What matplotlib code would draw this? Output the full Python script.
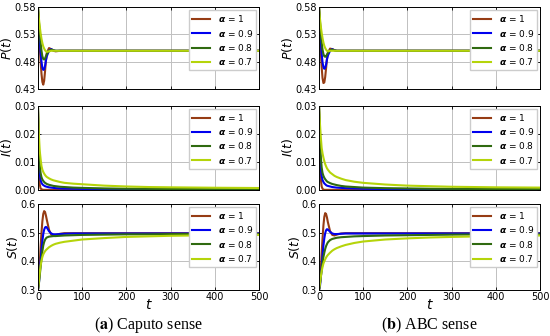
import matplotlib
matplotlib.use("Agg")
import matplotlib.pyplot as plt

# time grid shared by all the curves
t = [0, 2, 4, 6, 8, 10, 12, 14, 16, 18, 20, 25, 30, 35, 40, 50, 60, 80, 100, 150, 200, 250, 300, 400, 500]

alphas = ["1", "0.9", "0.8", "0.7"]
farben = ["#963c14", "#0000ee", "#2f6a10", "#b5d40a"]

# --- Caputo ---
P_caputo = [
    [0.58, 0.545, 0.51, 0.48, 0.458, 0.443, 0.438, 0.445, 0.462, 0.482, 0.496, 0.505, 0.503, 0.500, 0.499, 0.500, 0.500, 0.500, 0.500, 0.500, 0.500, 0.500, 0.500, 0.500, 0.500],
    [0.58, 0.55, 0.52, 0.497, 0.480, 0.469, 0.465, 0.466, 0.472, 0.482, 0.490, 0.500, 0.503, 0.501, 0.500, 0.500, 0.500, 0.500, 0.500, 0.500, 0.500, 0.500, 0.500, 0.500, 0.500],
    [0.58, 0.555, 0.535, 0.515, 0.500, 0.490, 0.485, 0.484, 0.486, 0.490, 0.494, 0.500, 0.502, 0.501, 0.500, 0.500, 0.500, 0.500, 0.500, 0.500, 0.500, 0.500, 0.500, 0.500, 0.500],
    [0.58, 0.56, 0.545, 0.532, 0.522, 0.514, 0.508, 0.504, 0.501, 0.499, 0.498, 0.499, 0.500, 0.500, 0.500, 0.500, 0.500, 0.500, 0.500, 0.500, 0.500, 0.500, 0.500, 0.500, 0.500],
]
I_caputo = [
    [0.03, 0.008, 0.002, 0.0005, 0.0002, 0.0001, 0, 0, 0, 0, 0, 0, 0, 0, 0, 0, 0, 0, 0, 0, 0, 0, 0, 0, 0],
    [0.03, 0.012, 0.006, 0.0035, 0.0025, 0.002, 0.0017, 0.0015, 0.0013, 0.0012, 0.0011, 0.0009, 0.0008, 0.0007, 0.0006, 0.0005, 0.00045, 0.0004, 0.00035, 0.0003, 0.00025, 0.0002, 0.0002, 0.00015, 0.00012],
    [0.03, 0.016, 0.009, 0.006, 0.0045, 0.0037, 0.0032, 0.0028, 0.0025, 0.0023, 0.0021, 0.0018, 0.0016, 0.0014, 0.0013, 0.0011, 0.001, 0.0008, 0.0007, 0.0005, 0.0004, 0.00035, 0.0003, 0.00025, 0.0002],
    [0.03, 0.02, 0.014, 0.011, 0.0085, 0.0072, 0.0064, 0.0058, 0.0053, 0.0049, 0.0046, 0.0041, 0.0037, 0.0034, 0.0032, 0.0028, 0.0025, 0.0022, 0.002, 0.0015, 0.0012, 0.001, 0.0009, 0.00075, 0.00065],
]
S_caputo = [
    [0.30, 0.33, 0.39, 0.45, 0.50, 0.54, 0.565, 0.575, 0.572, 0.56, 0.545, 0.51, 0.493, 0.489, 0.491, 0.496, 0.498, 0.498, 0.498, 0.498, 0.498, 0.498, 0.498, 0.498, 0.498],
    [0.30, 0.32, 0.36, 0.40, 0.44, 0.47, 0.495, 0.51, 0.518, 0.52, 0.518, 0.505, 0.497, 0.494, 0.494, 0.495, 0.496, 0.497, 0.497, 0.497, 0.497, 0.497, 0.497, 0.497, 0.497],
    [0.30, 0.32, 0.35, 0.38, 0.41, 0.435, 0.455, 0.467, 0.475, 0.48, 0.483, 0.486, 0.487, 0.488, 0.488, 0.489, 0.49, 0.491, 0.492, 0.493, 0.494, 0.494, 0.495, 0.495, 0.495],
    [0.30, 0.33, 0.36, 0.385, 0.402, 0.415, 0.424, 0.43, 0.435, 0.439, 0.442, 0.449, 0.454, 0.458, 0.461, 0.465, 0.468, 0.472, 0.476, 0.481, 0.485, 0.487, 0.489, 0.491, 0.492],
]

# --- ABC ---
P_abc = [
    [0.58, 0.54, 0.50, 0.47, 0.45, 0.441, 0.442, 0.452, 0.468, 0.485, 0.496, 0.504, 0.503, 0.501, 0.500, 0.500, 0.500, 0.500, 0.500, 0.500, 0.500, 0.500, 0.500, 0.500, 0.500],
    [0.58, 0.55, 0.52, 0.495, 0.479, 0.470, 0.467, 0.469, 0.475, 0.484, 0.491, 0.500, 0.503, 0.501, 0.500, 0.500, 0.500, 0.500, 0.500, 0.500, 0.500, 0.500, 0.500, 0.500, 0.500],
    [0.58, 0.555, 0.535, 0.515, 0.502, 0.494, 0.490, 0.489, 0.490, 0.493, 0.496, 0.501, 0.502, 0.501, 0.500, 0.500, 0.500, 0.500, 0.500, 0.500, 0.500, 0.500, 0.500, 0.500, 0.500],
    [0.58, 0.56, 0.545, 0.533, 0.523, 0.515, 0.509, 0.505, 0.502, 0.500, 0.499, 0.500, 0.500, 0.500, 0.500, 0.500, 0.500, 0.500, 0.500, 0.500, 0.500, 0.500, 0.500, 0.500, 0.500],
]
I_abc = [
    [0.03, 0.012, 0.004, 0.0012, 0.0004, 0.0001, 0, 0, 0, 0, 0, 0, 0, 0, 0, 0, 0, 0, 0, 0, 0, 0, 0, 0, 0],
    [0.03, 0.015, 0.008, 0.005, 0.0035, 0.0028, 0.0023, 0.002, 0.0017, 0.0015, 0.0014, 0.0012, 0.001, 0.0009, 0.0008, 0.0007, 0.0006, 0.0005, 0.0004, 0.0003, 0.00025, 0.0002, 0.0002, 0.00015, 0.00012],
    [0.03, 0.02, 0.012, 0.008, 0.006, 0.005, 0.0043, 0.0038, 0.0034, 0.003, 0.0028, 0.0024, 0.0021, 0.0019, 0.0017, 0.0014, 0.0012, 0.001, 0.0008, 0.0006, 0.0005, 0.0004, 0.00035, 0.0003, 0.00025],
    [0.03, 0.024, 0.019, 0.015, 0.013, 0.0115, 0.0102, 0.0092, 0.0084, 0.0077, 0.0072, 0.0062, 0.0056, 0.005, 0.0046, 0.004, 0.0035, 0.0029, 0.0025, 0.0019, 0.0015, 0.0013, 0.0011, 0.0009, 0.0008],
]
S_abc = [
    [0.30, 0.32, 0.37, 0.43, 0.48, 0.525, 0.555, 0.568, 0.565, 0.553, 0.537, 0.505, 0.492, 0.49, 0.493, 0.497, 0.498, 0.498, 0.498, 0.498, 0.498, 0.498, 0.498, 0.498, 0.498],
    [0.30, 0.31, 0.34, 0.38, 0.42, 0.455, 0.48, 0.498, 0.508, 0.512, 0.511, 0.503, 0.497, 0.495, 0.495, 0.496, 0.497, 0.497, 0.497, 0.497, 0.497, 0.497, 0.497, 0.497, 0.497],
    [0.30, 0.32, 0.345, 0.37, 0.395, 0.415, 0.43, 0.443, 0.453, 0.46, 0.466, 0.474, 0.478, 0.48, 0.482, 0.484, 0.485, 0.487, 0.488, 0.49, 0.491, 0.492, 0.493, 0.494, 0.494],
    [0.30, 0.32, 0.345, 0.365, 0.38, 0.392, 0.40, 0.407, 0.413, 0.418, 0.422, 0.43, 0.437, 0.442, 0.446, 0.452, 0.457, 0.464, 0.469, 0.476, 0.48, 0.483, 0.485, 0.488, 0.49],
]

P_ticks = [0.43, 0.48, 0.53, 0.58]
I_ticks = [0.00, 0.01, 0.02, 0.03]
S_ticks = [0.3, 0.4, 0.5, 0.6]
t_ticks = [0, 100, 200, 300, 400, 500]

fig = plt.figure(figsize=(5.5, 3.36), dpi=100)

spalten = [
    (0.069, [P_caputo, I_caputo, S_caputo], "a", "Caputo sense"),
    (0.580, [P_abc, I_abc, S_abc], "b", "ABC sense"),
]
zeilen = [
    (0.735, 0.244, r"$P(t)$", P_ticks, ["0.43", "0.48", "0.53", "0.58"]),
    (0.435, 0.250, r"$I(t)$", I_ticks, ["0.00", "0.01", "0.02", "0.03"]),
    (0.137, 0.256, r"$S(t)$", S_ticks, ["0.3", "0.4", "0.5", "0.6"]),
]

for links, daten, buchstabe, titel in spalten:
    for k, (unten, hoehe, ylab, yt, ytl) in enumerate(zeilen):
        ax = fig.add_axes([links, unten, 0.402, hoehe])
        for j in range(4):
            ax.plot(t, daten[k][j], color=farben[j], lw=1.5,
                    label=r"$\boldsymbol{\alpha}$ = " + alphas[j])
        ax.set_xlim(0, 500)
        ax.set_ylim(yt[0], yt[-1])
        ax.set_yticks(yt)
        ax.set_yticklabels(ytl)
        ax.set_xticks(t_ticks)
        ax.grid(True, color="#c0c0c0", lw=0.7)
        ax.tick_params(direction="in", top=True, right=True, labelsize=7,
                       length=2.5, width=0.6, pad=1.5)
        for s in ax.spines.values():
            s.set_linewidth(0.7)
        ax.set_ylabel(ylab, fontsize=9, labelpad=0)
        if k < 2:
            ax.set_xticklabels([])
        else:
            ax.set_xlabel(r"$t$", fontsize=10, labelpad=-3)
        ax.legend(loc="upper right", fontsize=6.5, handlelength=2.0,
                  borderpad=0.4, labelspacing=0.35, handletextpad=0.8,
                  fancybox=False, framealpha=1, edgecolor="#cccccc",
                  borderaxespad=0.3)
    fig.text(links + 0.201, 0.032, r"($\mathbf{" + buchstabe + r"}$) " + titel,
             ha="center", va="center", fontsize=11.5,
             family="Liberation Serif", math_fontfamily="stix")

fig.savefig("out.png", dpi=100)
